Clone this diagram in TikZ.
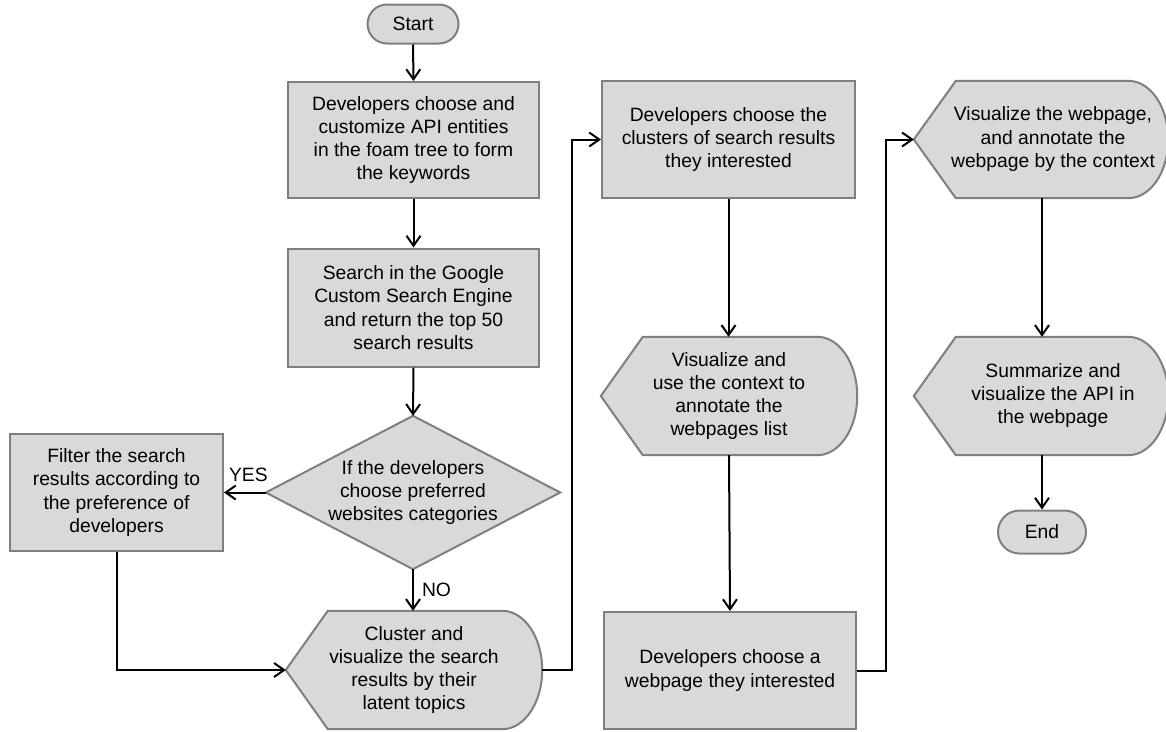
\documentclass[tikz,border=0pt]{standalone}
\usepackage{fontspec}
\setmainfont{Liberation Sans}
\usetikzlibrary{arrows.meta,calc,backgrounds}
\definecolor{shapefill}{HTML}{D9D9D9}
\definecolor{shapeline}{HTML}{7F7F7F}
\newcommand\flowfont{\fontsize{19.3}{23.3}\selectfont}
\newcommand\dispshape[1]{\path[shapebase] (#1.west) -- ($(#1.north west)+(42,0)$) -- ($(#1.north east)+(-40,0)$) .. controls +(22,0) and +(0,-33) .. (#1.east) .. controls +(0,33) and +(22,0) .. ($(#1.south east)+(-40,0)$) -- ($(#1.south west)+(42,0)$) -- cycle;}
\begin{document}
\begin{tikzpicture}[x=1pt,y=-1pt,
  shapebase/.style={draw=shapeline, fill=shapefill, line width=2pt},
  procbox/.style={shapebase, rectangle, inner sep=0pt, align=center, font=\flowfont, text=black},
  termbox/.style={shapebase, rectangle, inner sep=0pt, font=\flowfont, text=black},
  textarea/.style={rectangle, inner sep=0pt, font=\flowfont, text=black},
  flow/.style={draw=black, line width=2pt, -{Straight Barb[length=10pt,width=14pt]}},
  edgelabel/.style={font=\flowfont, inner sep=0pt, text=black}]
\useasboundingbox (0,0) rectangle (1166,731);
\clip (0,0) rectangle (1166,731);

\node[termbox, minimum width=91, minimum height=39, rounded corners=19.5pt] (start) at (413,24) {Start};
\node[procbox, minimum width=251, minimum height=116] (box1) at (413.5,140) {Developers choose and\\customize API entities\\in the foam tree to form\\the keywords};
\node[procbox, minimum width=251, minimum height=118] (box2) at (413.5,307.5) {Search in the Google\\Custom Search Engine\\and return the top 50\\search results};
\node[textarea, align=center, minimum width=294, minimum height=153] (dia) at (413,492.5) {If the developers\\choose preferred\\websites categories};
\node[procbox, minimum width=213, minimum height=117] (filter) at (116.5,492.5) {Filter the search\\results according to\\the preference of\\developers};
\node[textarea, align=center, minimum width=256, minimum height=118] (disp1) at (414,670) {Cluster and\\visualize the search\\results by their\\latent topics};
\node[procbox, minimum width=253, minimum height=117] (box3) at (728.5,139.5) {Developers choose the\\clusters of search results\\they interested};
\node[textarea, align=center, minimum width=256, minimum height=118] (disp2) at (729,396) {Visualize and\\use the context to\\annotate the\\webpages list};
\node[procbox, minimum width=252, minimum height=117] (box4) at (730,670.5) {Developers choose a\\webpage they interested};
\node[textarea, minimum width=254, minimum height=117] (disp3) at (1041,139.5) {\hspace*{24pt}\begin{tabular}{@{}c@{}}Visualize the webpage,\\and annotate the\\webpage by the context\end{tabular}};
\node[textarea, minimum width=254, minimum height=118] (disp4) at (1041,396) {\hspace*{24pt}\begin{tabular}{@{}c@{}}Summarize and\\visualize the API in\\the webpage\end{tabular}};
\node[termbox, minimum width=88, minimum height=43, rounded corners=21.5pt] (end) at (1042,532) {End};

\begin{pgfonlayer}{background}
\path[shapebase] (dia.north) -- (dia.east) -- (dia.south) -- (dia.west) -- cycle;
\dispshape{disp1}
\dispshape{disp2}
\dispshape{disp3}
\dispshape{disp4}
\end{pgfonlayer}

\draw[flow] (start.south) -- (box1.north);
\draw[flow] (box1.south) -- (box2.north);
\draw[flow] (box2.south) -- (dia.north);
\draw[flow] (dia.west) -- node[edgelabel, above=10pt, xshift=3.5pt]{YES} (filter.east);
\draw[flow] (dia.south) -- node[edgelabel, right=8pt]{NO} (dia.south |- disp1.north);
\draw[flow] (filter.south) |- (disp1.west);
\draw[flow] (disp1.east) -- ++(30,0) |- (box3.west);
\draw[flow] (box3.south) -- (box3.south |- disp2.north);
\draw[flow] (disp2.south) -- (box4.north);
\draw[flow] (box4.east) -- ++(29,0) |- (disp3.west);
\draw[flow] (disp3.south -| end.north) -- (disp4.north -| end.north);
\draw[flow] (disp4.south -| end.north) -- (end.north);
\end{tikzpicture}
\end{document}
